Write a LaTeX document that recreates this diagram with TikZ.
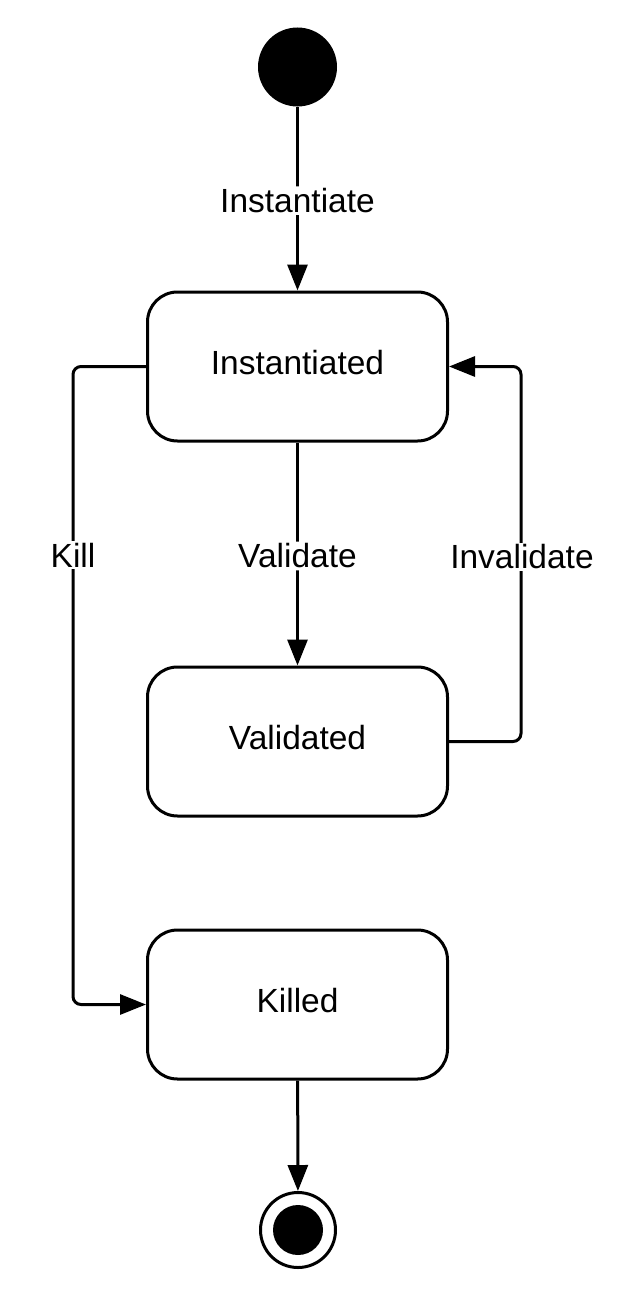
\documentclass[tikz,border=0pt]{standalone}
\usepackage{fontspec}
\setmainfont{Liberation Sans}
\usetikzlibrary{arrows.meta}
\begin{document}
\begin{tikzpicture}[x=1pt,y=-1pt,
  statebox/.style={draw,line width=3pt,rounded corners=30pt,minimum width=300pt,minimum height=149pt,inner sep=0pt,text height=24pt,text depth=9pt,font=\fontsize{33.5}{40}\selectfont},
  conn/.style={line width=3pt,rounded corners=8pt,-{Triangle[length=26pt,width=20pt]}},
  lbl/.style={fill=white,inner sep=2pt,font=\fontsize{33.5}{40}\selectfont}]
\path[use as bounding box,fill=white] (0,0) rectangle (630,1298);
\node[circle,fill=black,minimum size=79pt,inner sep=0pt] (init) at (297.5,67) {};
\node[statebox] (inst) at (297.5,366.5) {Instantiated};
\node[statebox] (val) at (297.5,741.5) {Validated};
\node[statebox] (kill) at (297.5,1004.5) {Killed};
\node[circle,draw,line width=3pt,minimum size=75pt,inner sep=0pt] (final) at (298,1230) {};
\node[circle,fill=black,minimum size=50pt,inner sep=0pt] (finaldot) at (final) {};
\coordinate (lx) at (73,0);
\coordinate (rx) at (521,0);
\draw[conn] (init) -- node[lbl,yshift=-2pt] {Instantiate} (inst);
\draw[conn] (inst) -- node[lbl,yshift=-2pt] {Validate} (val);
\draw[conn] (kill) -- (final);
\draw[conn] (inst.west) -- (inst.west -| lx) -- (kill.west -| lx) -- (kill.west);
\draw[conn] (val.east) -- (val.east -| rx) -- (inst.east -| rx) -- (inst.east);
\node[lbl] (killlbl) at (73,555) {Kill};
\node[lbl] (invlbl) at (522,557) {Invalidate};
\end{tikzpicture}
\end{document}
